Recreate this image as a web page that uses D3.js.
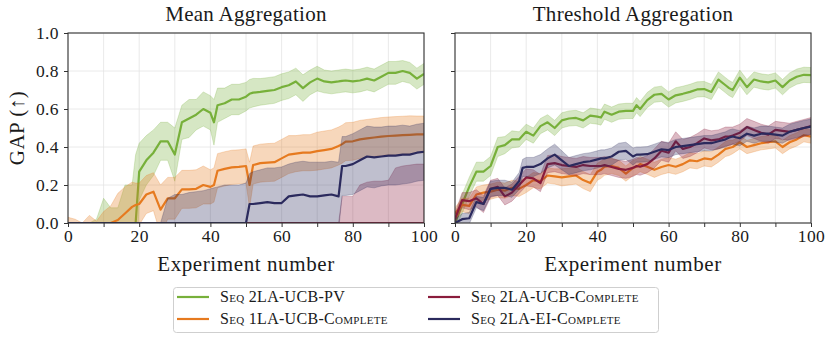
<!DOCTYPE html>
<html>
<head>
<meta charset="utf-8">
<script src="https://cdn.jsdelivr.net/npm/d3@7"></script>
<style>
  body { margin: 0; background: #fff; }
  text { font-family: "Liberation Serif", "DejaVu Serif", serif; fill: #1a1a1a; }
</style>
</head>
<body>
<script>
const experiments = [0,2,4,6,8,10,12,14,16,18,19,20,22,24,26,28,30,32,34,36,38,40,41,42,44,46,48,50,51,52,54,56,58,60,62,64,66,68,70,72,74,76,77,78,80,82,84,86,88,90,92,94,96,98,100];

const seriesNames = ["Seq 2LA-UCB-PV", "Seq 1LA-UCB-Complete", "Seq 2LA-UCB-Complete", "Seq 2LA-EI-Complete"];
const seriesColors = ["#77b03a", "#e67a1f", "#8a1c3c", "#2b2a5d"];

// Mean aggregation: mean GAP and band half-width
const meanAggPV = [0,0,0,0,0,0,0,0,0,0, 0, 0.27,0.33,0.37,0.43,0.43,0.36,0.53,0.55,0.57,0.6,0.58, 0.53, 0.62,0.63,0.65,0.65,0.665, 0.68, 0.686,0.69,0.695,0.70,0.715,0.725,0.745,0.71,0.74,0.76,0.745,0.74,0.745, 0.748, 0.75,0.745,0.75,0.76,0.75,0.77,0.79,0.79,0.80,0.79,0.76,0.785];
const meanAggPVsd = [0,0,0,0,0.02,0.13,0.08,0.08,0.2,0.2, 0.36, 0.15,0.13,0.12,0.1,0.1,0.14,0.09,0.1,0.08,0.09,0.09, 0.12, 0.09,0.08,0.08,0.08,0.075, 0.075, 0.075,0.07,0.07,0.07,0.07,0.07,0.07,0.07,0.065,0.065,0.06,0.06,0.06, 0.06, 0.06,0.06,0.06,0.06,0.06,0.06,0.06,0.06,0.055,0.055,0.055,0.055];
const meanAgg1LA = [0,0,0,0,0,0,0,0.016,0.05,0.085, 0.095, 0.1,0.15,0.165,0.07,0.13,0.13,0.177,0.177,0.18,0.2,0.19, 0.2, 0.275,0.285,0.293,0.295,0.3, 0.2, 0.305,0.315,0.318,0.32,0.34,0.36,0.365,0.37,0.37,0.378,0.384,0.39,0.405, 0.415, 0.428,0.43,0.44,0.445,0.45,0.455,0.458,0.46,0.462,0.464,0.466,0.466];
const meanAgg1LAsd = [0.03,0.02,0,0.04,0.01,0.06,0.09,0.14,0.14,0.13, 0.115, 0.11,0.1,0.1,0.13,0.11,0.11,0.1,0.1,0.1,0.1,0.09, 0.09, 0.09,0.09,0.09,0.09,0.09, 0.12, 0.1,0.1,0.1,0.1,0.1,0.1,0.095,0.095,0.095,0.1,0.1,0.1,0.1, 0.1, 0.1,0.1,0.1,0.1,0.1,0.1,0.1,0.1,0.1,0.1,0.097,0.097];
const meanAgg2LA = [0,0,0,0,0,0,0,0,0,0, 0, 0,0,0,0,0,0,0,0,0,0,0, 0, 0,0,0,0,0, 0, 0,0,0,0,0,0,0,0,0,0,0,0,0, 0, 0,0,0,0,0,0,0,0,0,0,0,0];
const meanAgg2LAsd = [0,0,0,0,0,0,0,0,0,0, 0, 0,0,0,0,0,0,0,0,0,0,0, 0, 0,0,0,0,0, 0, 0,0,0,0,0,0,0,0,0,0,0,0,0, 0.14, 0.14,0.14,0.2,0.215,0.22,0.22,0.225,0.29,0.3,0.305,0.31,0.31];
const meanAggEI = [0,0,0,0,0,0,0,0,0,0, 0, 0,0,0,0,0,0,0,0,0,0,0, 0, 0,0,0,0,0, 0.1, 0.1,0.105,0.11,0.105,0.105,0.14,0.145,0.15,0.14,0.14,0.145,0.15,0.14, 0.3, 0.3,0.31,0.33,0.35,0.345,0.35,0.355,0.355,0.36,0.36,0.37,0.375];
const meanAggEIsd = [0,0,0,0,0,0,0,0,0,0, 0, 0,0,0,0,0.13,0.15,0.15,0.16,0.165,0.17,0.18, 0.185, 0.19,0.2,0.2,0.2,0.21, 0.16, 0.17,0.175,0.18,0.185,0.19,0.17,0.175,0.175,0.18,0.18,0.175,0.175,0.18, 0.155, 0.155,0.16,0.16,0.16,0.16,0.155,0.155,0.155,0.155,0.15,0.15,0.15];

// Threshold aggregation: mean GAP and band half-width
const thrAggPV = [0,0.1,0.19,0.27,0.27,0.3,0.4,0.41,0.44,0.44, 0.46, 0.48,0.46,0.51,0.53,0.5,0.54,0.55,0.553,0.54,0.565,0.56, 0.555, 0.586,0.57,0.586,0.59,0.59, 0.62, 0.6,0.647,0.675,0.68,0.65,0.672,0.68,0.69,0.703,0.705,0.69,0.755,0.725, 0.71, 0.7,0.765,0.715,0.755,0.745,0.74,0.75,0.715,0.75,0.77,0.78,0.778];
const thrAggPVsd = [0.03,0.05,0.05,0.05,0.05,0.05,0.05,0.045,0.045,0.04, 0.04, 0.04,0.04,0.04,0.04,0.04,0.04,0.04,0.04,0.04,0.04,0.04, 0.04, 0.04,0.04,0.04,0.04,0.04, 0.04, 0.04,0.04,0.04,0.04,0.04,0.04,0.04,0.04,0.04,0.04,0.04,0.04,0.04, 0.04, 0.04,0.04,0.04,0.04,0.04,0.04,0.04,0.04,0.04,0.04,0.04,0.04];
const thrAgg1LA = [0.05,0.095,0.09,0.15,0.16,0.165,0.175,0.17,0.185,0.18, 0.19, 0.2,0.226,0.22,0.25,0.245,0.24,0.245,0.25,0.226,0.21,0.27, 0.28, 0.296,0.3,0.29,0.26,0.29, 0.296, 0.31,0.296,0.28,0.295,0.305,0.296,0.31,0.33,0.325,0.34,0.335,0.36,0.39, 0.395, 0.4,0.425,0.4,0.41,0.42,0.425,0.43,0.4,0.425,0.44,0.462,0.455];
const thrAgg1LAsd = [0.03,0.035,0.04,0.04,0.04,0.04,0.04,0.04,0.04,0.04, 0.04, 0.04,0.04,0.04,0.04,0.04,0.045,0.045,0.045,0.045,0.045,0.045, 0.045, 0.045,0.04,0.04,0.04,0.04, 0.04, 0.04,0.04,0.04,0.04,0.04,0.04,0.04,0.04,0.04,0.04,0.04,0.04,0.04, 0.04, 0.035,0.035,0.035,0.035,0.035,0.035,0.035,0.035,0.035,0.035,0.035,0.035];
const thrAgg2LA = [0.02,0.12,0.115,0.13,0.1,0.18,0.19,0.14,0.16,0.2, 0.22, 0.24,0.235,0.21,0.31,0.315,0.305,0.3,0.295,0.305,0.3,0.3, 0.3, 0.305,0.295,0.285,0.28,0.29, 0.3, 0.296,0.31,0.34,0.38,0.37,0.43,0.39,0.4,0.42,0.445,0.435,0.44,0.455, 0.455, 0.46,0.475,0.505,0.49,0.475,0.465,0.49,0.485,0.48,0.49,0.5,0.51];
const thrAgg2LAsd = [0.03,0.04,0.045,0.045,0.045,0.045,0.045,0.045,0.045,0.045, 0.045, 0.045,0.045,0.045,0.045,0.045,0.045,0.045,0.045,0.045,0.045,0.045, 0.045, 0.045,0.045,0.045,0.045,0.045, 0.045, 0.045,0.045,0.05,0.05,0.05,0.05,0.05,0.05,0.05,0.05,0.05,0.05,0.05, 0.05, 0.045,0.045,0.045,0.045,0.045,0.045,0.045,0.045,0.045,0.045,0.045,0.045];
const thrAggEI = [0,0.02,0.025,0.11,0.1,0.18,0.185,0.185,0.175,0.22, 0.29, 0.295,0.295,0.31,0.34,0.36,0.33,0.3,0.31,0.32,0.325,0.335, 0.34, 0.34,0.35,0.375,0.38,0.35, 0.36, 0.36,0.362,0.375,0.388,0.384,0.4,0.405,0.41,0.415,0.42,0.42,0.43,0.44, 0.45, 0.455,0.446,0.47,0.46,0.47,0.47,0.465,0.46,0.48,0.49,0.5,0.507];
const thrAggEIsd = [0.02,0.03,0.03,0.03,0.035,0.04,0.04,0.04,0.04,0.045, 0.045, 0.05,0.05,0.05,0.05,0.055,0.05,0.045,0.045,0.045,0.045,0.045, 0.045, 0.045,0.045,0.045,0.045,0.045, 0.04, 0.04,0.04,0.04,0.04,0.04,0.04,0.04,0.04,0.04,0.04,0.04,0.04,0.04, 0.04, 0.04,0.04,0.04,0.04,0.04,0.04,0.04,0.04,0.04,0.04,0.04,0.04];

const xTicks = [0, 10, 20, 30, 40, 50, 60, 70, 80, 90, 100];
const yTicks = [0, 0.2, 0.4, 0.6, 0.8, 1.0];

const panels = [
  { title: "Mean Aggregation", left: 68, yLabels: true,
    means: [meanAggPV, meanAgg1LA, meanAgg2LA, meanAggEI],
    sds: [meanAggPVsd, meanAgg1LAsd, meanAgg2LAsd, meanAggEIsd] },
  { title: "Threshold Aggregation", left: 455, yLabels: false,
    means: [thrAggPV, thrAgg1LA, thrAgg2LA, thrAggEI],
    sds: [thrAggPVsd, thrAgg1LAsd, thrAgg2LAsd, thrAggEIsd] }
];

const width = 831, height = 340;
const plotW = 356, plotTop = 33, plotBottom = 223;

const svg = d3.select("body").append("svg")
  .attr("width", width)
  .attr("height", height)
  .attr("viewBox", [0, 0, width, height]);

panels.forEach((p, pi) => {
  const x = d3.scaleLinear().domain([0, 100]).range([p.left, p.left + plotW]);
  const y = d3.scaleLinear().domain([0, 1]).range([plotBottom, plotTop]);
  const g = svg.append("g");

  g.append("clipPath").attr("id", "clip" + pi)
    .append("rect")
    .attr("x", p.left).attr("y", plotTop)
    .attr("width", plotW).attr("height", plotBottom - plotTop);

  // grid
  g.append("g")
    .selectAll("line")
    .data(xTicks)
    .join("line")
    .attr("x1", d => x(d)).attr("x2", d => x(d))
    .attr("y1", plotTop).attr("y2", plotBottom)
    .attr("stroke", "#e4e4e4").attr("stroke-width", 0.8);
  g.append("g")
    .selectAll("line")
    .data(yTicks)
    .join("line")
    .attr("x1", p.left).attr("x2", p.left + plotW)
    .attr("y1", d => y(d)).attr("y2", d => y(d))
    .attr("stroke", "#e4e4e4").attr("stroke-width", 0.8);

  const plot = g.append("g").attr("clip-path", `url(#clip${pi})`);

  const area = d3.area()
    .x((d, i) => x(experiments[i]))
    .y0(d => y(d[0] - d[1]))
    .y1(d => y(d[0] + d[1]));
  const line = d3.line()
    .x((d, i) => x(experiments[i]))
    .y(d => y(d));

  p.means.forEach((m, si) => {
    const band = m.map((v, i) => [v, p.sds[si][i]]);
    plot.append("path")
      .datum(band)
      .attr("d", area)
      .attr("fill", seriesColors[si])
      .attr("fill-opacity", 0.3)
      .attr("stroke", seriesColors[si])
      .attr("stroke-opacity", 0.25)
      .attr("stroke-width", 1);
    plot.append("path")
      .datum(m)
      .attr("d", line)
      .attr("fill", "none")
      .attr("stroke", seriesColors[si])
      .attr("stroke-width", 2.2)
      .attr("stroke-linejoin", "round");
  });

  // axes
  const xAxis = g.append("g")
    .attr("transform", `translate(0,${plotBottom})`)
    .call(d3.axisBottom(x).tickValues(xTicks).tickSize(4).tickPadding(3)
      .tickFormat(d => d % 20 === 0 ? d : ""));
  const yAxis = g.append("g")
    .attr("transform", `translate(${p.left},0)`)
    .call(d3.axisLeft(y).tickValues(yTicks).tickSize(4).tickPadding(5)
      .tickFormat(p.yLabels ? d3.format(".1f") : () => ""));
  [xAxis, yAxis].forEach(a => {
    a.attr("font-family", null).attr("font-size", null);
    a.select(".domain").remove();
    a.selectAll(".tick line").attr("stroke", "#333").attr("stroke-width", 1);
    a.selectAll("text").style("font-size", "17.5px").attr("fill", "#1a1a1a")
      .style("letter-spacing", "0.4px");
  });

  g.append("rect")
    .attr("x", p.left).attr("y", plotTop)
    .attr("width", plotW).attr("height", plotBottom - plotTop)
    .attr("fill", "none").attr("stroke", "#333").attr("stroke-width", 1.1);

  g.append("text")
    .attr("x", p.left + plotW / 2).attr("y", 21)
    .attr("text-anchor", "middle")
    .style("font-size", "21px")
    .style("letter-spacing", "0.3px")
    .text(p.title);

  g.append("text")
    .attr("x", p.left + plotW / 2).attr("y", 271)
    .attr("text-anchor", "middle")
    .style("font-size", "21px")
    .style("letter-spacing", "0.6px")
    .text("Experiment number");
});

svg.append("text")
  .attr("transform", `translate(24,${(plotTop + plotBottom) / 2}) rotate(-90)`)
  .attr("text-anchor", "middle")
  .style("font-size", "21px")
  .style("letter-spacing", "0.5px")
  .text("GAP (↑)");

// legend
const legend = svg.append("g");
legend.append("rect")
  .attr("x", 173.5).attr("y", 287.5)
  .attr("width", 485).attr("height", 45)
  .attr("rx", 3)
  .attr("fill", "#fff").attr("stroke", "#cfcfcf").attr("stroke-width", 1);

const legendPos = [[177, 297], [177, 319], [428, 297], [428, 319]];
seriesNames.forEach((name, i) => {
  const [lx, ly] = legendPos[i];
  legend.append("line")
    .attr("x1", lx).attr("x2", lx + 32)
    .attr("y1", ly).attr("y2", ly)
    .attr("stroke", seriesColors[i]).attr("stroke-width", 2.2);
  legend.append("text")
    .attr("x", lx + 43).attr("y", ly + 5)
    .style("font-size", "16px")
    .style("font-variant", "small-caps")
    .style("letter-spacing", "0.3px")
    .text(name);
});
</script>
</body>
</html>
